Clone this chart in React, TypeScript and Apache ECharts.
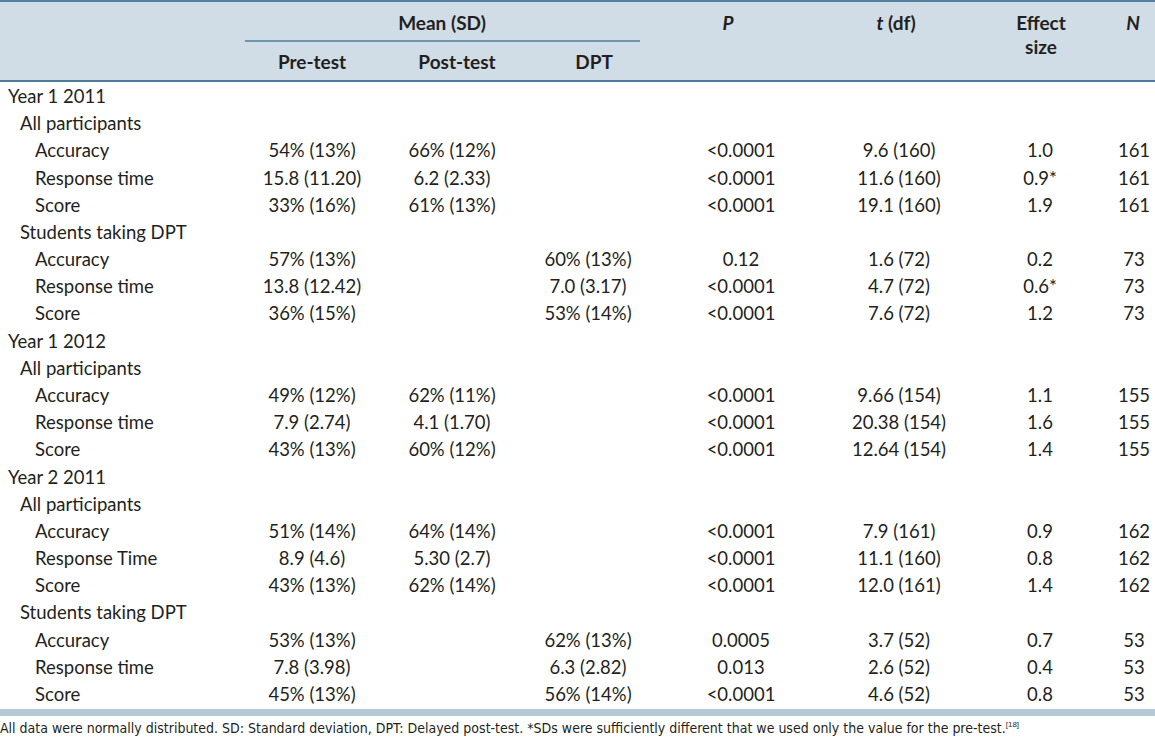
import React, { useEffect, useRef } from "react";
import * as echarts from "echarts";

const rowLabels = [
  "Year 1 2011", "All participants", "Accuracy", "Response time", "Score",
  "Students taking DPT", "Accuracy", "Response time", "Score",
  "Year 1 2012", "All participants", "Accuracy", "Response time", "Score",
  "Year 2 2011", "All participants", "Accuracy", "Response Time", "Score",
  "Students taking DPT", "Accuracy", "Response time", "Score",
];
const rowLevels = [0, 1, 2, 2, 2, 1, 2, 2, 2, 0, 1, 2, 2, 2, 0, 1, 2, 2, 2, 1, 2, 2, 2];
const preTest = [
  "", "", "54% (13%)", "15.8 (11.20)", "33% (16%)", "", "57% (13%)", "13.8 (12.42)", "36% (15%)",
  "", "", "49% (12%)", "7.9 (2.74)", "43% (13%)", "", "", "51% (14%)", "8.9 (4.6)", "43% (13%)",
  "", "53% (13%)", "7.8 (3.98)", "45% (13%)",
];
const postTest = [
  "", "", "66% (12%)", "6.2 (2.33)", "61% (13%)", "", "", "", "",
  "", "", "62% (11%)", "4.1 (1.70)", "60% (12%)", "", "", "64% (14%)", "5.30 (2.7)", "62% (14%)",
  "", "", "", "",
];
const dptValues = [
  "", "", "", "", "", "", "60% (13%)", "7.0 (3.17)", "53% (14%)",
  "", "", "", "", "", "", "", "", "", "",
  "", "62% (13%)", "6.3 (2.82)", "56% (14%)",
];
const pValues = [
  "", "", "<0.0001", "<0.0001", "<0.0001", "", "0.12", "<0.0001", "<0.0001",
  "", "", "<0.0001", "<0.0001", "<0.0001", "", "", "<0.0001", "<0.0001", "<0.0001",
  "", "0.0005", "0.013", "<0.0001",
];
const tValues = [
  "", "", "9.6 (160)", "11.6 (160)", "19.1 (160)", "", "1.6 (72)", "4.7 (72)", "7.6 (72)",
  "", "", "9.66 (154)", "20.38 (154)", "12.64 (154)", "", "", "7.9 (161)", "11.1 (160)", "12.0 (161)",
  "", "3.7 (52)", "2.6 (52)", "4.6 (52)",
];
const effectSizes = [
  "", "", "1.0", "0.9*", "1.9", "", "0.2", "0.6*", "1.2",
  "", "", "1.1", "1.6", "1.4", "", "", "0.9", "0.8", "1.4",
  "", "0.7", "0.4", "0.8",
];
const nValues = [
  "", "", "161", "161", "161", "", "73", "73", "73",
  "", "", "155", "155", "155", "", "", "162", "162", "162",
  "", "53", "53", "53",
];
const footnote =
  "All data were normally distributed. SD: Standard deviation, DPT: Delayed post-test. *SDs were sufficiently different that we used only the value for the pre-test.";
const footnoteRef = "[18]";

export default function App() {
  const ref = useRef<HTMLDivElement>(null);
  useEffect(() => {
    document.body.style.margin = "0";
    const chart = echarts.init(ref.current!, null, { renderer: "svg" });
    const font = "Lato, 'Open Sans', sans-serif";
    const ink = "#231f20";
    const els: any[] = [];
    els.push({ type: "rect", shape: { x: 0, y: 0, width: 1155, height: 81 }, style: { fill: "#d0dde6" } });
    els.push({ type: "line", shape: { x1: 0, y1: 1, x2: 1155, y2: 1 }, style: { stroke: "#557f9e", lineWidth: 2 } });
    els.push({ type: "line", shape: { x1: 0, y1: 81, x2: 1155, y2: 81 }, style: { stroke: "#4f7b9a", lineWidth: 2 } });
    els.push({ type: "line", shape: { x1: 245, y1: 41, x2: 640, y2: 41 }, style: { stroke: "#4f7b9a", lineWidth: 1.5 } });
    const hdr = (text: string, x: number, y: number, italic = false) =>
      els.push({
        type: "text", x, y,
        style: { text, fill: ink, font: `${italic ? "italic " : ""}bold 19px ${font}`, textAlign: "center", textVerticalAlign: "middle" },
      });
    hdr("Mean (SD)", 442, 22);
    hdr("Pre-test", 312, 61);
    hdr("Post-test", 457, 61);
    hdr("DPT", 594, 61);
    hdr("P", 728, 22, true);
    els.push({
      type: "text", x: 896, y: 22,
      style: {
        text: "{i|t} (df)", fill: ink, font: `bold 19px ${font}`, textAlign: "center", textVerticalAlign: "middle",
        rich: { i: { font: `italic bold 19px ${font}`, fill: ink } },
      },
    });
    hdr("Effect", 1041, 22);
    hdr("size", 1041, 46);
    hdr("N", 1133, 22, true);

    const y0 = 96;
    const step = 27.18;
    const indent = [8, 20, 35];
    const cols: [string[], number][] = [
      [preTest, 312], [postTest, 452], [dptValues, 588], [pValues, 741], [tValues, 899], [effectSizes, 1040], [nValues, 1134],
    ];
    rowLabels.forEach((lab, i) => {
      const y = y0 + i * step;
      els.push({
        type: "text", x: indent[rowLevels[i]], y,
        style: { text: lab, fill: ink, font: `18.5px ${font}`, textAlign: "left", textVerticalAlign: "middle" },
      });
      cols.forEach(([arr, cx]) => {
        if (!arr[i]) return;
        els.push({
          type: "text", x: cx, y,
          style: { text: arr[i], fill: ink, font: `18.5px ${font}`, textAlign: "center", textVerticalAlign: "middle" },
        });
      });
    });
    els.push({ type: "rect", shape: { x: 0, y: 709, width: 1155, height: 7 }, style: { fill: "#b4c9d8" } });
    els.push({
      type: "text", x: 0, y: 728,
      style: {
        text: footnote + "{s|" + footnoteRef + "}", fill: ink,
        font: `14px 'Liberation Sans Narrow', 'DejaVu Sans Condensed', sans-serif`,
        textAlign: "left", textVerticalAlign: "middle",
        rich: { s: { font: `8px 'Liberation Sans Narrow', sans-serif`, fill: ink, verticalAlign: "top", padding: [0, 0, 8, 0] } },
      },
    });
    chart.setOption({ animation: false, graphic: { elements: els } });
    return () => chart.dispose();
  }, []);
  return <div ref={ref} style={{ width: 1155, height: 741, position: "absolute", left: 0, top: 0, background: "#fff" }} />;
}
